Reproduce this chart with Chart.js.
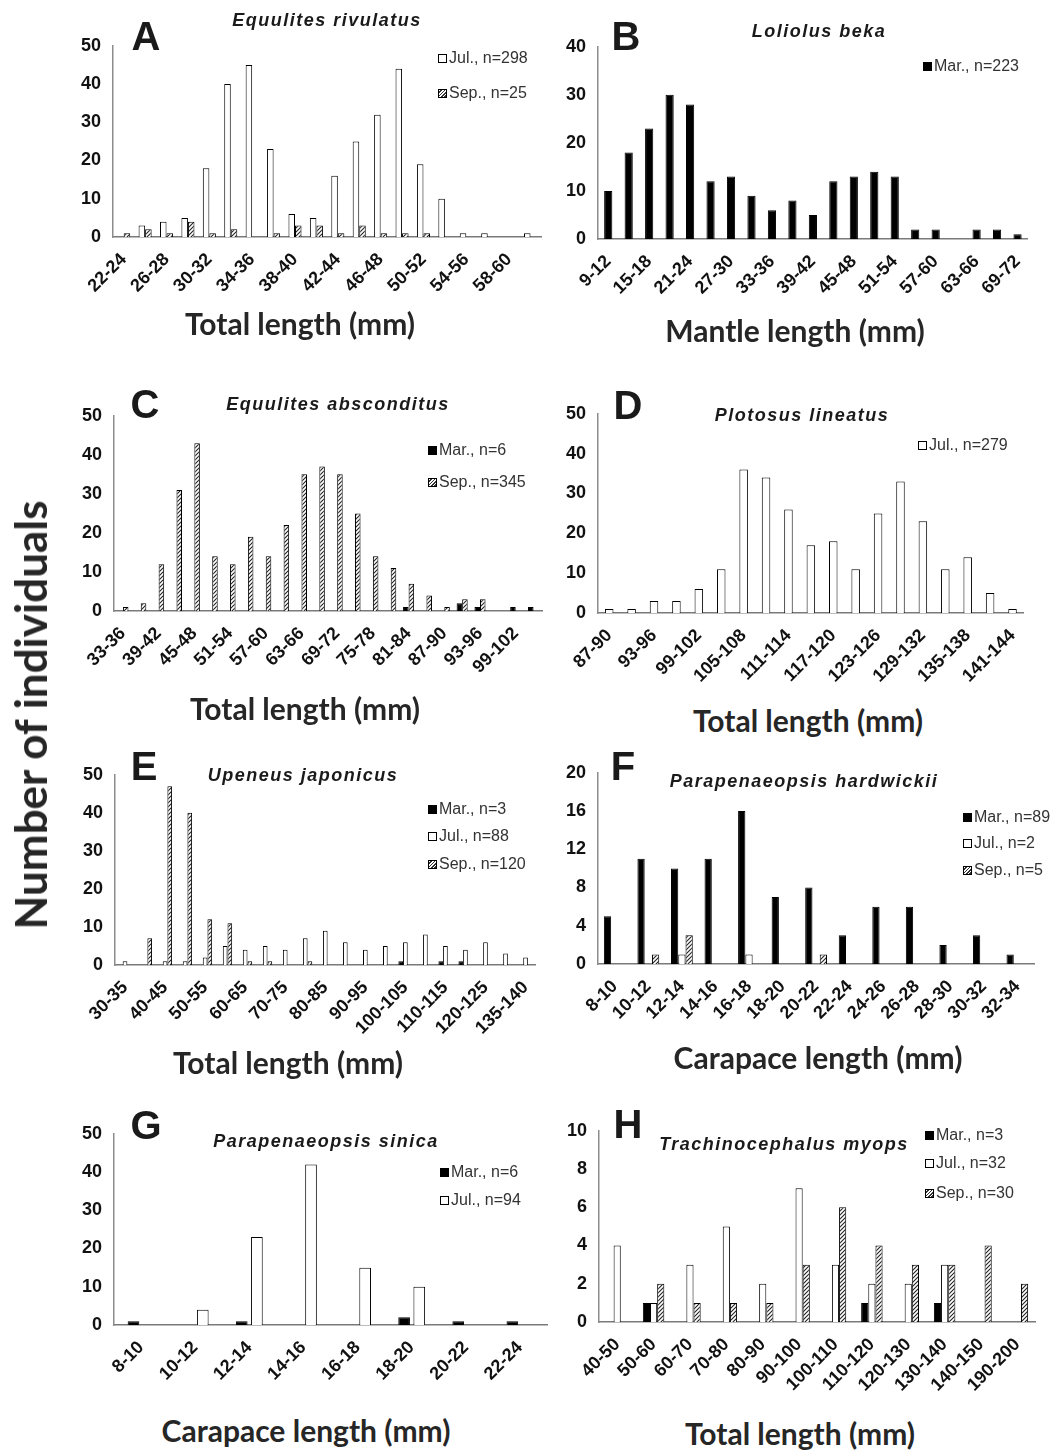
<!DOCTYPE html>
<html>
<head>
<meta charset="utf-8">
<script src="https://cdn.jsdelivr.net/npm/chart.js@4.4.1/dist/chart.umd.min.js"></script>
<style>
  body { margin: 0; background: #fff; }
  #fig { position: relative; width: 1054px; height: 1450px; overflow: hidden; font-family: "Liberation Sans", Arial, sans-serif; color: #1a1a1a; }
  .box { position: absolute; }
  .t { position: absolute; white-space: nowrap; line-height: 1; }
  .letter { font-weight: bold; font-size: 40px; transform: translate(-50%, -50%); }
  .sp { font-weight: bold; font-style: italic; font-size: 18px; letter-spacing: 1.5px; transform: translate(-50%, -50%); }
  .xt { font-family: Lato, sans-serif; font-weight: bold; font-size: 30px; color: #262626; transform: translate(-50%, -50%); }
  .yt { font-family: Lato, sans-serif; font-weight: bold; font-size: 44px; color: #262626; transform: translate(-50%, -50%) rotate(-90deg); }
  .lg { font-size: 16px; color: #333; transform: translateY(-50%); display: flex; align-items: center; }
  .sw { display: inline-block; width: 7px; height: 7px; border: 1px solid #000; margin-right: 2px; }
  .sw.mar { background: #000; }
  .sw.jul { background: #fff; }
  .sw.sep { background: repeating-linear-gradient(135deg, #fff 0 1.2px, #333 1.2px 2.4px); }
</style>
</head>
<body>
<div id="fig"></div>
<script>
// A - Equulites rivulatus
const lenA = ["22-24","24-26","26-28","28-30","30-32","32-34","34-36","36-38","38-40","40-42","42-44","44-46","46-48","48-50","50-52","52-54","54-56","56-58","58-60","60-62"];
const julA = [0,3,4,5,18,40,45,23,6,5,16,25,32,44,19,10,1,1,0,1];
const sepA = [1,2,1,4,1,2,0,1,3,3,1,3,1,1,1,0,0,0,0,0];

// B - Loliolus beka
const lenB = ["9-12","12-15","15-18","18-21","21-24","24-27","27-30","30-33","33-36","36-39","39-42","42-45","45-48","48-51","51-54","54-57","57-60","60-63","63-66","66-69","69-72"];
const marB = [10,18,23,30,28,12,13,9,6,8,5,12,13,14,13,2,2,0,2,2,1];

// C - Equulites absconditus
const lenC = ["33-36","36-39","39-42","42-45","45-48","48-51","51-54","54-57","57-60","60-63","63-66","66-69","69-72","72-75","75-78","78-81","81-84","84-87","87-90","90-93","93-96","96-99","99-102","102-105"];
const marC = [0,0,0,0,0,0,0,0,0,0,0,0,0,0,0,0,1,0,0,2,1,0,1,1];
const sepC = [1,2,12,31,43,14,12,19,14,22,35,37,35,25,14,11,7,4,1,3,3,0,0,0];

// D - Plotosus lineatus
const lenD = ["87-90","90-93","93-96","96-99","99-102","102-105","105-108","108-111","111-114","114-117","117-120","120-123","123-126","126-129","129-132","132-135","135-138","138-141","141-144"];
const julD = [1,1,3,3,6,11,36,34,26,17,18,11,25,33,23,11,14,5,1];

// E - Upeneus japonicus
const lenE = ["30-35","35-40","40-45","45-50","50-55","55-60","60-65","65-70","70-75","75-80","80-85","85-90","90-95","95-100","100-105","105-110","110-115","115-120","120-125","130-135","135-140"];
const marE = [0,0,0,0,0,0,0,0,0,0,0,0,0,0,1,0,1,1,0,0,0];
const julE = [1,0,1,1,2,5,4,5,4,7,9,6,4,5,6,8,5,4,6,3,2];
const sepE = [0,7,47,40,12,11,1,1,0,1,0,0,0,0,0,0,0,0,0,0,0];

// F - Parapenaeopsis hardwickii
const lenF = ["8-10","10-12","12-14","14-16","16-18","18-20","20-22","22-24","24-26","26-28","28-30","30-32","32-34"];
const marF = [5,11,10,11,16,7,8,3,6,6,2,3,1];
const julF = [0,0,1,0,1,0,0,0,0,0,0,0,0];
const sepF = [0,1,3,0,0,0,1,0,0,0,0,0,0];

// G - Parapenaeopsis sinica
const lenG = ["8-10","10-12","12-14","14-16","16-18","18-20","20-22","22-24"];
const marG = [1,0,1,0,0,2,1,1];
const julG = [0,4,23,42,15,10,0,0];

// H - Trachinocephalus myops
const lenH = ["40-50","50-60","60-70","70-80","80-90","90-100","100-110","110-120","120-130","130-140","140-150","190-200"];
const marH = [0,1,0,0,0,0,0,1,0,1,0,0];
const julH = [4,1,3,5,2,7,3,2,2,3,0,0];
const sepH = [0,2,1,1,1,3,6,4,3,3,4,2];

const fig = document.getElementById("fig");

function hatch() {
  const c = document.createElement("canvas");
  c.width = 4; c.height = 4;
  const g = c.getContext("2d");
  g.fillStyle = "#fff";
  g.fillRect(0, 0, 4, 4);
  g.strokeStyle = "#222";
  g.lineWidth = 1.1;
  g.beginPath();
  g.moveTo(0, 4); g.lineTo(4, 0);
  g.moveTo(-1, 1); g.lineTo(1, -1);
  g.moveTo(3, 5); g.lineTo(5, 3);
  g.stroke();
  return g.createPattern(c, "repeat");
}
const fills = { mar: "#000", jul: "#fff", sep: hatch() };

function txt(cls, x, y, s) {
  const d = document.createElement("div");
  d.className = "t " + cls;
  d.style.left = x + "px";
  d.style.top = y + "px";
  d.textContent = s;
  fig.appendChild(d);
  return d;
}

function legend(x, y, kind, s) {
  const d = txt("lg", x, y, "");
  const sw = document.createElement("span");
  sw.className = "sw " + kind;
  d.appendChild(sw);
  d.appendChild(document.createTextNode(s));
}

// ax = y axis x, top = y of max tick, zero = y of 0, right = end of x axis
const panels = [
  { ax: 113, top: 38, zero: 237, right: 550, labels: lenA, series: [["jul", julA], ["sep", sepA]], max: 50, step: 10, cp: 0.61, bp: 1, every: 2 },
  { ax: 598, top: 39, zero: 239, right: 1037, labels: lenB, series: [["mar", marB]], max: 40, step: 10, cp: 0.4, bp: 1, every: 2 },
  { ax: 114, top: 408, zero: 611, right: 553, labels: lenC, series: [["mar", marC], ["sep", sepC]], max: 50, step: 10, cp: 0.62, bp: 1, every: 2 },
  { ax: 598, top: 406, zero: 613, right: 1032, labels: lenD, series: [["jul", julD]], max: 50, step: 10, cp: 0.38, bp: 1, every: 2 },
  { ax: 115, top: 767, zero: 965, right: 545, labels: lenE, series: [["mar", marE], ["jul", julE], ["sep", sepE]], max: 50, step: 10, cp: 0.7, bp: 1, every: 2 },
  { ax: 598, top: 765, zero: 964, right: 1037, labels: lenF, series: [["mar", marF], ["jul", julF], ["sep", sepF]], max: 20, step: 4, cp: 0.65, bp: 1, every: 1 },
  { ax: 114, top: 1126, zero: 1325, right: 547, labels: lenG, series: [["mar", marG], ["jul", julG]], max: 50, step: 10, cp: 0.56, bp: 0.77, every: 1 },
  { ax: 599, top: 1123, zero: 1322, right: 1037, labels: lenH, series: [["mar", marH], ["jul", julH], ["sep", sepH]], max: 10, step: 2, cp: 0.59, bp: 1, every: 1 }
];

panels.forEach((p) => {
  const L = p.ax - 60, T = p.top - 15;
  const W = p.right + 8 - L, H = p.zero + 85 - T;
  const box = document.createElement("div");
  box.className = "box";
  box.style.left = L + "px";
  box.style.top = T + "px";
  const cv = document.createElement("canvas");
  cv.width = W; cv.height = H;
  cv.style.width = W + "px"; cv.style.height = H + "px";
  box.appendChild(cv);
  fig.appendChild(box);

  new Chart(cv, {
    type: "bar",
    data: {
      labels: p.labels,
      datasets: p.series.map(([k, vals]) => ({
        data: vals,
        backgroundColor: fills[k],
        borderColor: "#000",
        borderWidth: 1,
        barPercentage: p.bp,
        categoryPercentage: p.cp
      }))
    },
    options: {
      responsive: false,
      animation: false,
      layout: { padding: { top: 15, right: 8, left: 0, bottom: 0 } },
      plugins: { legend: { display: false }, tooltip: { enabled: false } },
      scales: {
        x: {
          grid: { display: false, drawTicks: false },
          border: { color: "#7a7a7a", width: 1.5 },
          ticks: {
            autoSkip: false, maxRotation: 45, minRotation: 45, padding: 12,
            color: "#111",
            font: { family: "Liberation Sans", size: 18, weight: "bold" },
            callback: (v, i) => (i % p.every === 0 ? p.labels[i] : "")
          },
          afterFit: (s) => { s.height = 85; }
        },
        y: {
          min: 0, max: p.max,
          grid: { display: false, drawTicks: false },
          border: { color: "#8c8c8c", width: 1.5 },
          ticks: {
            stepSize: p.step, padding: 12, color: "#111",
            font: { family: "Liberation Sans", size: 18, weight: "bold" }
          },
          afterFit: (s) => { s.width = 60; }
        }
      }
    }
  });
});

// panel letters
txt("letter", 146, 36, "A");
txt("letter", 626, 36, "B");
txt("letter", 145, 404, "C");
txt("letter", 628, 405, "D");
txt("letter", 144, 766, "E");
txt("letter", 623, 766, "F");
txt("letter", 146, 1125, "G");
txt("letter", 628, 1124, "H");

// species names
txt("sp", 327, 20, "Equulites rivulatus");
txt("sp", 819, 31, "Loliolus beka");
txt("sp", 338, 404, "Equulites absconditus");
txt("sp", 802, 415, "Plotosus lineatus");
txt("sp", 303, 775, "Upeneus japonicus");
txt("sp", 804, 781, "Parapenaeopsis hardwickii");
txt("sp", 326, 1141, "Parapenaeopsis sinica");
txt("sp", 784, 1144, "Trachinocephalus myops");

// legends
legend(438, 58, "jul", "Jul., n=298");
legend(438, 93, "sep", "Sep., n=25");
legend(923, 66, "mar", "Mar., n=223");
legend(428, 450, "mar", "Mar., n=6");
legend(428, 482, "sep", "Sep., n=345");
legend(918, 445, "jul", "Jul., n=279");
legend(428, 809, "mar", "Mar., n=3");
legend(428, 836, "jul", "Jul., n=88");
legend(428, 864, "sep", "Sep., n=120");
legend(963, 817, "mar", "Mar., n=89");
legend(963, 843, "jul", "Jul., n=2");
legend(963, 870, "sep", "Sep., n=5");
legend(440, 1172, "mar", "Mar., n=6");
legend(440, 1200, "jul", "Jul., n=94");
legend(925, 1135, "mar", "Mar., n=3");
legend(925, 1163, "jul", "Jul., n=32");
legend(925, 1193, "sep", "Sep., n=30");

// axis titles
txt("xt", 300, 323, "Total length (mm)");
txt("xt", 795, 330, "Mantle length (mm)");
txt("xt", 305, 708, "Total length (mm)");
txt("xt", 808, 720, "Total length (mm)");
txt("xt", 288, 1062, "Total length (mm)");
txt("xt", 818, 1057, "Carapace length (mm)");
txt("xt", 306, 1430, "Carapace length (mm)");
txt("xt", 800, 1433, "Total length (mm)");
txt("yt", 30, 715, "Number of individuals");
</script>
</body>
</html>
